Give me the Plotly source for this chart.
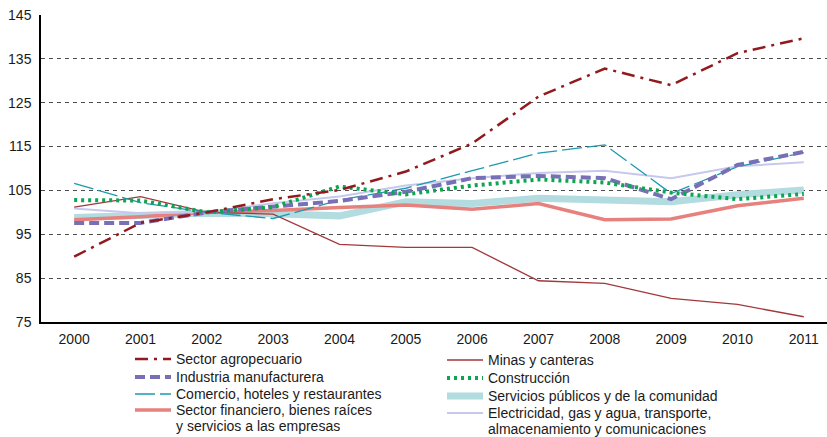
import plotly.graph_objects as go

years = [2000, 2001, 2002, 2003, 2004, 2005, 2006, 2007, 2008, 2009, 2010, 2011]

agropecuario = [89.9, 97.6, 100.0, 103.0, 105.1, 109.3, 115.7, 126.4, 132.8, 129.0, 136.3, 139.7]
minas = [101.2, 103.6, 100.0, 99.6, 92.7, 92.0, 92.0, 84.4, 83.8, 80.4, 79.0, 76.2]
industria = [97.6, 97.6, 100.0, 101.4, 102.6, 104.7, 107.8, 108.3, 107.8, 103.0, 110.8, 113.8]
construccion = [102.8, 102.7, 100.0, 101.2, 105.9, 104.1, 106.1, 107.5, 106.8, 104.5, 103.0, 104.2]
comercio = [106.6, 102.2, 100.0, 98.6, 102.8, 105.5, 109.5, 113.5, 115.4, 104.3, 110.4, 113.6]
servicios = [98.8, 99.3, 99.8, 99.7, 99.2, 102.4, 102.0, 103.2, 102.8, 102.4, 104.0, 105.1]
financiero = [98.3, 99.0, 100.0, 100.4, 101.1, 101.7, 100.7, 102.0, 98.3, 98.5, 101.5, 103.2]
electricidad = [100.9, 99.8, 100.0, 102.1, 103.6, 106.1, 107.8, 109.0, 109.5, 107.8, 110.5, 111.4]

y_ticks = [75, 85, 95, 105, 115, 125, 135, 145]

names = {
    "agro": ["Sector agropecuario"],
    "minas": ["Minas y canteras"],
    "ind": ["Industria manufacturera"],
    "cons": ["Construcción"],
    "com": ["Comercio, hoteles y restaurantes"],
    "serv": ["Servicios públicos y de la comunidad"],
    "fin": ["Sector financiero, bienes raíces", "y servicios a las empresas"],
    "elec": ["Electricidad, gas y agua, transporte,", "almacenamiento y comunicaciones"],
}

styles = {
    "serv": dict(color="#B2DCE0", width=7, dash="solid"),
    "fin": dict(color="#E6817E", width=3.5, dash="solid"),
    "elec": dict(color="#C6C9EC", width=2, dash="solid"),
    "minas": dict(color="#A2373C", width=1.3, dash="solid"),
    "com": dict(color="#1C9AAE", width=1.3, dash="20px,5px"),
    "ind": dict(color="#7770B6", width=4, dash="10px,5px"),
    "cons": dict(color="#0EA552", width=4, dash="3px,4px"),
    "agro": dict(color="#921A1E", width=2.5, dash="13px,6px,3px,6px"),
}

series = {
    "serv": servicios, "fin": financiero, "elec": electricidad, "minas": minas,
    "com": comercio, "ind": industria, "cons": construccion, "agro": agropecuario,
}

# layout geometry (pixels)
W, H = 827, 437
ML, MR, MT, MB = 41, 0, 15, 115
PW, PH = W - ML - MR, H - MT - MB


def px2x(px):
    return (px - ML) / PW


def px2y(py):
    return (H - MB - py) / PH


fig = go.Figure()

# drawing order (bottom to top)
for key in ["serv", "fin", "elec", "minas", "com", "ind", "cons", "agro"]:
    fig.add_trace(go.Scatter(
        x=years, y=series[key], mode="lines", name=" ".join(names[key]),
        line=styles[key], hoverinfo="skip", showlegend=False,
    ))

# legend (two columns), drawn as shapes + text
legend_layout = [
    ("agro", 135, 359),
    ("ind", 135, 377),
    ("com", 135, 394),
    ("fin", 135, 410),
    ("minas", 447, 360),
    ("cons", 447, 378),
    ("serv", 447, 396),
    ("elec", 447, 413),
]
shapes = []
annotations = []
for key, sx, sy in legend_layout:
    st = styles[key]
    shapes.append(dict(
        type="line", xref="paper", yref="paper",
        x0=px2x(sx), x1=px2x(sx + 36), y0=px2y(sy), y1=px2y(sy),
        line=dict(color=st["color"], width=st["width"], dash=st["dash"]),
        layer="above",
    ))
    for i, line in enumerate(names[key]):
        annotations.append(dict(
            xref="paper", yref="paper",
            x=px2x(sx + 39), y=px2y(sy + i * 16),
            xanchor="left", yanchor="middle",
            text=line, showarrow=False,
            font=dict(size=14, color="#1a1a1a", family="Liberation Sans"),
        ))

fig.update_layout(
    width=W, height=H,
    margin=dict(l=ML, r=MR, t=MT, b=MB),
    paper_bgcolor="white", plot_bgcolor="white",
    font=dict(family="Liberation Sans", size=14, color="#1a1a1a"),
    showlegend=False,
    shapes=shapes,
    annotations=annotations,
    xaxis=dict(
        range=[1999.5, 2011.35],
        tickmode="array", tickvals=years, ticktext=[str(y) for y in years],
        showgrid=False, zeroline=False,
        showline=True, linecolor="black", linewidth=1.5,
        ticks="", ticklabelstandoff=3, automargin=False,
    ),
    yaxis=dict(
        range=[75, 145],
        tickmode="array", tickvals=y_ticks,
        showgrid=True, gridcolor="#4d4d4d", gridwidth=1, griddash="4px,4px",
        zeroline=False,
        showline=True, linecolor="black", linewidth=1.5,
        ticks="", ticklabelstandoff=5, automargin=False,
    ),
)

fig.write_html(
    "out.html",
    config={"displayModeBar": False},
    post_script="document.body.style.margin='0';",
)
